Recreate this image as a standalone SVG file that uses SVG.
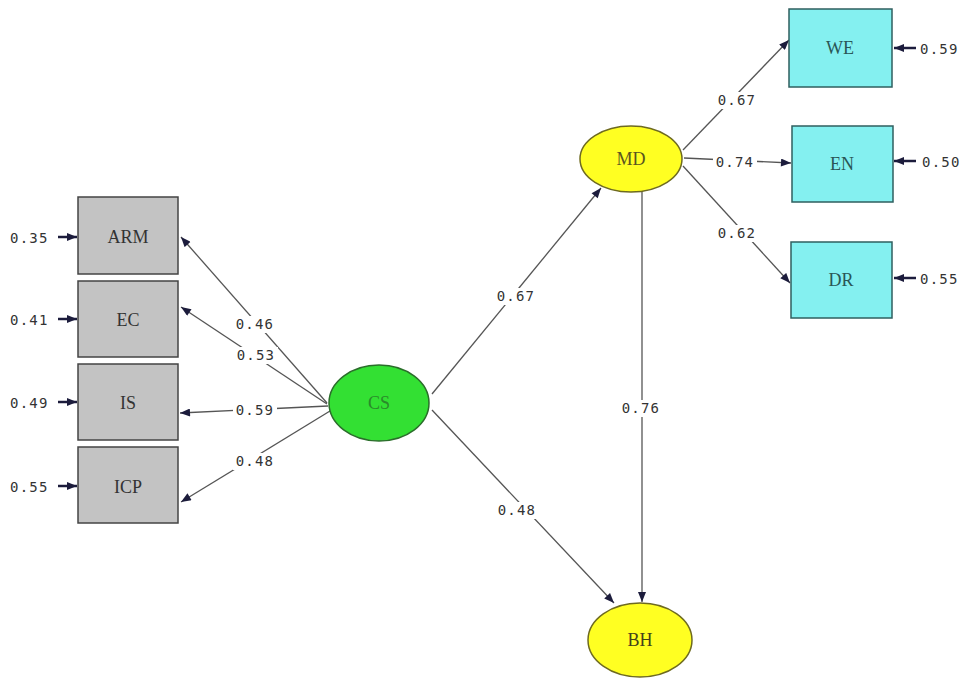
<svg xmlns="http://www.w3.org/2000/svg" width="963" height="678" viewBox="0 0 963 678">
<defs>
<marker id="ah" viewBox="0 0 10 8" refX="10" refY="4" markerWidth="11" markerHeight="8" markerUnits="userSpaceOnUse" orient="auto">
<path d="M0,0 L10,4 L0,8 Z" fill="#1c1c3c"/>
</marker>
</defs>
<style>
.e{stroke:#555;stroke-width:1.3;fill:none;marker-end:url(#ah)}
.r{stroke:#1c1c3c;stroke-width:2.5;fill:none;marker-end:url(#ah)}
.bg{fill:#fff}
.lb{font-family:"DejaVu Sans Mono","Liberation Mono",monospace;font-size:14px;letter-spacing:1.2px;fill:#333;text-anchor:middle}
.er{font-family:"DejaVu Sans Mono","Liberation Mono",monospace;font-size:14px;letter-spacing:1.2px;fill:#333}
.nt{font-family:"Liberation Serif",serif;font-size:18px;text-anchor:middle}
.g{fill:#c3c3c3;stroke:#444;stroke-width:1.5}
.c{fill:#84f0f0;stroke:#2f5f5f;stroke-width:1.5}
</style>
<rect width="963" height="678" fill="#fff"/>
<g id="connectors">
<line class="e" x1="327" y1="403" x2="181" y2="237"/>
<line class="e" x1="327" y1="404" x2="181" y2="307"/>
<line class="e" x1="328" y1="406" x2="180" y2="413"/>
<line class="e" x1="330" y1="411" x2="181" y2="502"/>
<line class="e" x1="432" y1="394" x2="601" y2="188"/>
<line class="e" x1="432" y1="410" x2="614" y2="603"/>
<line class="e" x1="642" y1="192" x2="642" y2="602"/>
<line class="e" x1="683" y1="150" x2="789" y2="40"/>
<line class="e" x1="684" y1="158" x2="791" y2="163"/>
<line class="e" x1="683" y1="166" x2="790" y2="283"/>
<line class="r" x1="58" y1="237" x2="77" y2="237"/>
<line class="r" x1="58" y1="319" x2="77" y2="319"/>
<line class="r" x1="58" y1="402" x2="77" y2="402"/>
<line class="r" x1="58" y1="486" x2="77" y2="486"/>
<line class="r" x1="916" y1="48" x2="894" y2="48"/>
<line class="r" x1="916" y1="161" x2="894" y2="161"/>
<line class="r" x1="916" y1="278" x2="894" y2="278"/>
<rect class="bg" x="233" y="316" width="44" height="17"/>
<rect class="bg" x="234" y="347" width="44" height="17"/>
<rect class="bg" x="233" y="402" width="44" height="17"/>
<rect class="bg" x="233" y="453" width="44" height="17"/>
<rect class="bg" x="494" y="288" width="44" height="17"/>
<rect class="bg" x="495" y="502" width="44" height="17"/>
<rect class="bg" x="619" y="400" width="44" height="17"/>
<rect class="bg" x="715" y="92" width="44" height="17"/>
<rect class="bg" x="713" y="154" width="44" height="17"/>
<rect class="bg" x="715" y="225" width="44" height="17"/>
<text class="lb" x="255" y="329">0.46</text>
<text class="lb" x="256" y="360">0.53</text>
<text class="lb" x="255" y="415">0.59</text>
<text class="lb" x="255" y="466">0.48</text>
<text class="lb" x="516" y="301">0.67</text>
<text class="lb" x="517" y="515">0.48</text>
<text class="lb" x="641" y="413">0.76</text>
<text class="lb" x="737" y="105">0.67</text>
<text class="lb" x="735" y="167">0.74</text>
<text class="lb" x="737" y="238">0.62</text>
<text class="er" x="10" y="243">0.35</text>
<text class="er" x="10" y="325">0.41</text>
<text class="er" x="10" y="408">0.49</text>
<text class="er" x="10" y="492">0.55</text>
<text class="er" x="920" y="54">0.59</text>
<text class="er" x="922" y="167">0.50</text>
<text class="er" x="920" y="284">0.55</text>
</g>
<g id="ARM"><rect class="g" x="78" y="197" width="100" height="77"/><text class="nt" x="128" y="243" fill="#333">ARM</text></g>
<g id="EC"><rect class="g" x="78" y="281" width="100" height="76"/><text class="nt" x="128" y="326" fill="#333">EC</text></g>
<g id="IS"><rect class="g" x="78" y="364" width="100" height="76"/><text class="nt" x="128" y="409" fill="#333">IS</text></g>
<g id="ICP"><rect class="g" x="78" y="447" width="100" height="76"/><text class="nt" x="128" y="493" fill="#333">ICP</text></g>
<g id="CS"><ellipse cx="379" cy="403" rx="50" ry="38" fill="#33e033" stroke="#2a6e2a" stroke-width="1.5"/><text class="nt" x="379" y="409" fill="#2a8a2a">CS</text></g>
<g id="MD"><ellipse cx="631" cy="159" rx="51" ry="33" fill="#ffff22" stroke="#6e6a20" stroke-width="1.5"/><text class="nt" x="631" y="165" font-size="16" fill="#5a5420">MD</text></g>
<g id="BH"><ellipse cx="640" cy="640" rx="52" ry="37" fill="#ffff22" stroke="#6e6a20" stroke-width="1.5"/><text class="nt" x="640" y="646" fill="#44421a">BH</text></g>
<g id="WE"><rect class="c" x="789" y="9" width="103" height="78"/><text class="nt" x="840" y="54" fill="#2a5656">WE</text></g>
<g id="EN"><rect class="c" x="792" y="126" width="101" height="76"/><text class="nt" x="842" y="170" fill="#2a5656">EN</text></g>
<g id="DR"><rect class="c" x="791" y="242" width="101" height="76"/><text class="nt" x="841" y="286" fill="#2a5656">DR</text></g>
</svg>
